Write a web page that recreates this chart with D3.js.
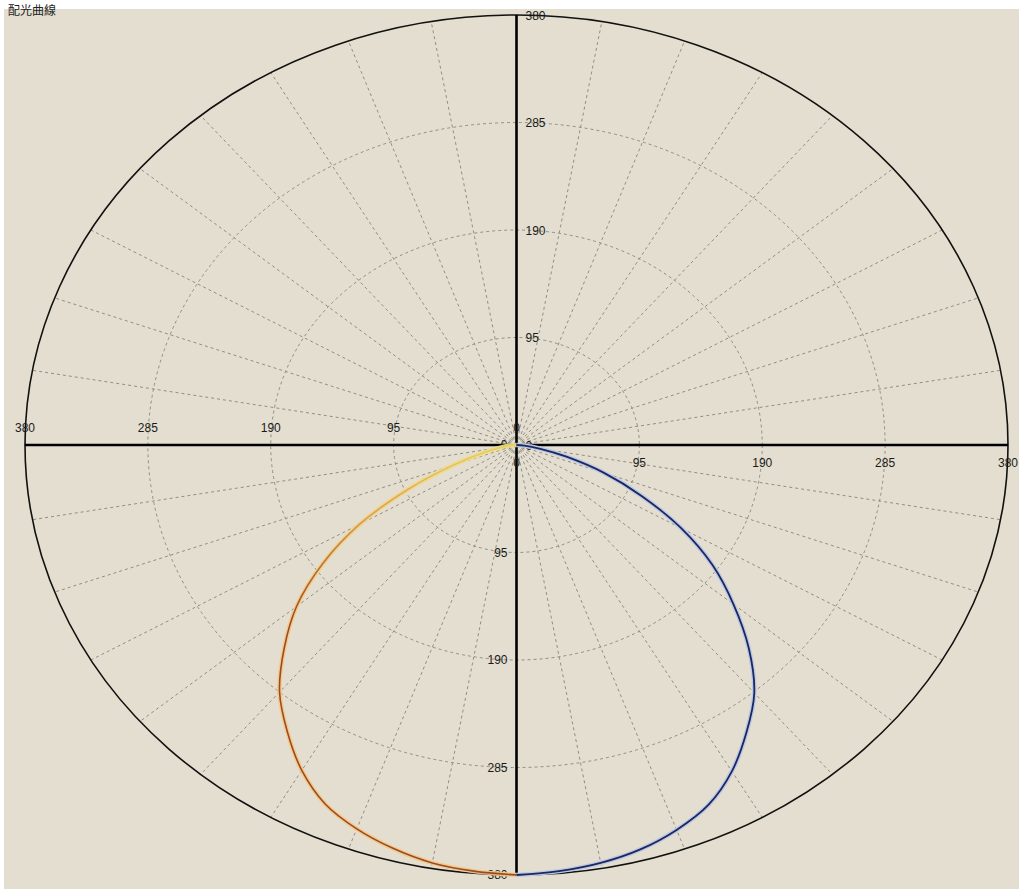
<!DOCTYPE html>
<html>
<head>
<meta charset="utf-8">
<script src="https://cdn.jsdelivr.net/npm/d3@7"></script>
<style>
  html, body { margin: 0; padding: 0; background: #ffffff; }
  svg { display: block; }
</style>
</head>
<body>
<svg id="chart" width="1019" height="889"></svg>
<script>
// ---- data ----
const titleText = "配光曲線";
const radialTicks = [0, 95, 190, 285, 380];
const maxValue = 380;
const gridAngles = d3.range(0, 360, 10);             // radial grid lines every 10°
const curveAngles = [0, 5, 10, 15, 20, 25, 30, 35, 40, 45, 50, 55, 60, 65, 70, 75, 80, 85, 90];
const rightValues = [380, 378, 375, 370, 362, 351, 333, 310, 286, 254, 219, 185, 147, 107, 72, 40, 18, 6, 0];
const leftValues  = [380, 378, 375, 369, 361, 350, 332, 309, 285, 254, 222, 183, 140, 92, 52, 26, 12, 4, 0];

// ---- layout ----
const W = 1019, H = 889;
const cx = 516.5, cy = 445;
const rx = 491.5, ry = 430;

const svg = d3.select("#chart");

// panel background
svg.append("rect").attr("x", 4).attr("y", 9).attr("width", W - 4).attr("height", H - 9)
  .attr("fill", "#e3decf");

// title
svg.append("text").attr("x", 8).attr("y", 15)
  .attr("font-family", "'Noto Sans CJK TC','Noto Sans CJK SC',sans-serif")
  .attr("font-size", 12).attr("fill", "#222").text(titleText);

const sx = d3.scaleLinear().domain([0, maxValue]).range([0, rx]);
const sy = d3.scaleLinear().domain([0, maxValue]).range([0, ry]);

// angle measured from downward vertical (nadir), positive to the right
const px = (deg, r) => cx + sx(r) * Math.sin(deg * Math.PI / 180);
const py = (deg, r) => cy + sy(r) * Math.cos(deg * Math.PI / 180);

const g = svg.append("g");
const gridColor = "#938e84";

// concentric dashed ellipses
g.selectAll("ellipse.grid").data(radialTicks.filter(d => d > 0 && d < maxValue)).join("ellipse")
  .attr("class", "grid")
  .attr("cx", cx).attr("cy", cy)
  .attr("rx", d => sx(d)).attr("ry", d => sy(d))
  .attr("fill", "none").attr("stroke", gridColor).attr("stroke-width", 1)
  .attr("stroke-dasharray", "3,3");

// radial dashed lines
g.selectAll("line.spoke").data(gridAngles.filter(a => a % 90 !== 0)).join("line")
  .attr("class", "spoke")
  .attr("x1", cx).attr("y1", cy)
  .attr("x2", a => px(a, maxValue)).attr("y2", a => py(a, maxValue))
  .attr("stroke", gridColor).attr("stroke-width", 1)
  .attr("stroke-dasharray", "3,3");

// outer ellipse
g.append("ellipse").attr("cx", cx).attr("cy", cy).attr("rx", sx(maxValue)).attr("ry", sy(maxValue))
  .attr("fill", "none").attr("stroke", "#111").attr("stroke-width", 1.6);

// main axes
g.append("line").attr("x1", cx - sx(maxValue)).attr("x2", cx + sx(maxValue)).attr("y1", cy).attr("y2", cy)
  .attr("stroke", "#000").attr("stroke-width", 2.6);
g.append("line").attr("x1", cx).attr("x2", cx).attr("y1", cy - sy(maxValue)).attr("y2", cy + sy(maxValue))
  .attr("stroke", "#000").attr("stroke-width", 2.6);

// labels
const lab = g.append("g").attr("font-family", "'Liberation Sans', Arial, sans-serif")
  .attr("font-size", 12).attr("fill", "#1a1a1a");
// top
lab.selectAll("text.top").data(radialTicks).join("text").attr("class", "top")
  .attr("x", cx + 9).attr("y", d => cy - sy(d) + 4.5).text(d => d);
// bottom
lab.selectAll("text.bot").data(radialTicks).join("text").attr("class", "bot")
  .attr("text-anchor", "end").attr("x", cx - 9).attr("y", d => cy + sy(d) + 4).text(d => d);
// left
lab.selectAll("text.left").data(radialTicks).join("text").attr("class", "left")
  .attr("text-anchor", "middle").attr("x", d => cx - sx(d)).attr("y", cy - 13).text(d => d);
// right
lab.selectAll("text.right").data(radialTicks).join("text").attr("class", "right")
  .attr("text-anchor", "middle").attr("x", d => cx + sx(d)).attr("y", cy + 22).text(d => d);

// curves
const rightPts = curveAngles.map((a, i) => [a, rightValues[i]]);
const leftPts = curveAngles.map((a, i) => [-a, leftValues[i]]);
const line = d3.line().x(d => px(d[0], d[1])).y(d => py(d[0], d[1])).curve(d3.curveCatmullRom);

// gradient for left curve (yellow near centre -> orange/brown)
const defs = svg.append("defs");
const grad = defs.append("linearGradient").attr("id", "leftGrad")
  .attr("gradientUnits", "userSpaceOnUse")
  .attr("x1", cx).attr("y1", cy).attr("x2", cx - 200).attr("y2", cy + 200);
grad.append("stop").attr("offset", "0%").attr("stop-color", "#e8d46a");
grad.append("stop").attr("offset", "55%").attr("stop-color", "#d9a050");
grad.append("stop").attr("offset", "100%").attr("stop-color", "#9a4a28");
const gradH = defs.append("linearGradient").attr("id", "leftHalo")
  .attr("gradientUnits", "userSpaceOnUse")
  .attr("x1", cx).attr("y1", cy).attr("x2", cx - 200).attr("y2", cy + 200);
gradH.append("stop").attr("offset", "0%").attr("stop-color", "#f0e08a");
gradH.append("stop").attr("offset", "100%").attr("stop-color", "#f4c983");

g.append("path").attr("d", line(leftPts)).attr("fill", "none")
  .attr("stroke", "url(#leftHalo)").attr("stroke-width", 4.5).attr("stroke-opacity", 0.9);
g.append("path").attr("d", line(leftPts)).attr("fill", "none")
  .attr("stroke", "url(#leftGrad)").attr("stroke-width", 1.6);

g.append("path").attr("d", line(rightPts)).attr("fill", "none")
  .attr("stroke", "#bcc8e4").attr("stroke-width", 4.5);
g.append("path").attr("d", line(rightPts)).attr("fill", "none")
  .attr("stroke", "#1c2660").attr("stroke-width", 1.8);
</script>
</body>
</html>
